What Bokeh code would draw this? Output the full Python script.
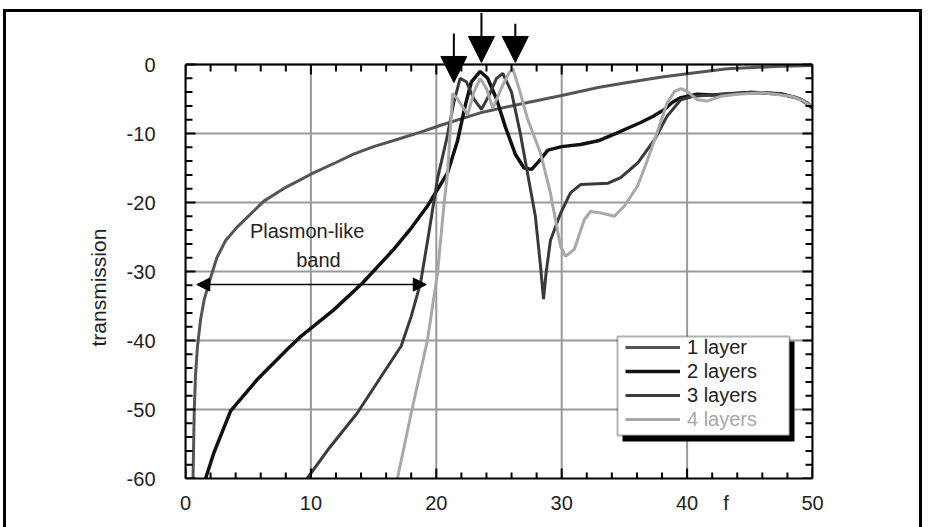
import math
from bokeh.plotting import figure
from bokeh.models import (LinearAxis, Legend, LegendItem, Arrow, NormalHead, Label,
                          BoxAnnotation, SingleIntervalTicker, FixedTicker, Range1d, Span, Title)
from bokeh.embed import file_html
from bokeh.resources import INLINE

FONT = "Liberation Sans"

# ---------------- data ----------------
f1 = [0.6, 0.7, 0.8, 0.95, 1.2, 1.5, 1.9, 2.5, 3.2, 4.1, 5.0, 6.25, 8.0, 10.0, 12.0, 13.4,
      15.0, 17.0, 18.75, 20.35, 23.5, 27.0, 30.0, 33.0, 35.25, 38.0, 40.0, 43.2, 46.9, 50.0]
t1 = [-60, -50, -45, -41, -37, -34, -31.5, -28, -25.5, -23.6, -22, -19.8, -17.8, -15.9, -14.2, -13.0,
      -11.9, -10.8, -9.8, -8.8, -7.0, -5.6, -4.5, -3.3, -2.6, -1.8, -1.35, -0.62, -0.3, -0.15]

f2 = [1.6, 2.26, 3.6, 5.7, 8.1, 9.2, 11.8, 14.1, 16.6, 18.0, 19.3, 20.9, 21.7, 22.3, 22.8, 23.5,
      24.1, 24.8, 25.5, 26.3, 27.0, 27.6, 28.2, 28.9, 30.0, 31.5, 33.0, 34.2, 35.3, 36.3, 37.3,
      38.2, 38.8, 39.5, 40.8, 42.0, 44.8, 46.0, 47.5, 48.5, 49.1, 49.6, 50.0]
t2 = [-60, -56.3, -50.2, -45.7, -41.3, -39.4, -35.6, -31.7, -26.8, -23.7, -20.5, -15.7, -11.0, -6.0,
      -2.5, -1.0, -2.0, -5.0, -9.0, -13.0, -15.0, -15.2, -14.0, -12.4, -11.9, -11.6, -11.0, -10.1,
      -9.2, -8.4, -7.5, -6.5, -5.5, -4.8, -4.3, -4.4, -4.1, -4.1, -4.3, -4.7, -5.1, -5.6, -6.3]

f3 = [9.7, 11.5, 13.7, 15.5, 17.2, 18.0, 18.75, 19.4, 20.1, 20.8, 21.4, 21.9, 22.4, 23.0, 23.6,
      24.2, 24.8, 25.3, 26.0, 26.7, 27.5, 27.9, 28.3, 28.55, 28.75, 29.1, 29.9, 30.7, 31.5, 33.7,
      34.7, 36.1, 37.4, 38.4, 39.5, 40.5, 42.0, 45.0, 47.5, 49.0, 50.0]
t3 = [-60, -55.5, -50.5, -45.5, -40.8, -36.5, -31.6, -24.5, -16.5, -11.0, -5.5, -2.0, -2.5, -5.0,
      -6.5, -4.5, -2.0, -1.3, -4.0, -10.0, -18.0, -22.0, -29.0, -34.0, -30.3, -25.5, -21.6, -18.6,
      -17.4, -17.2, -16.4, -14.2, -10.9, -7.5, -5.1, -4.6, -4.4, -4.0, -4.2, -5.0, -6.3]

f4 = [16.9, 18.0, 19.3, 20.1, 20.6, 20.9, 21.1, 21.3, 21.7, 22.5, 23.0, 23.5, 24.0, 24.5, 25.3,
      25.8, 26.1, 26.6, 27.3, 28.3, 29.1, 29.9, 30.3, 31.0, 31.8, 32.3, 33.1, 34.2, 35.0, 36.05,
      36.85, 37.6, 38.4, 39.0, 39.5, 40.0, 40.8, 41.6, 42.7, 44.0, 46.0, 48.3, 49.2, 49.9]
t4 = [-60, -50.5, -39.9, -30.2, -20.5, -15.7, -10, -4.2, -5, -7.3, -4.0, -2.0, -3.5, -6.3, -3.0,
      -1.2, -0.6, -3.5, -8.0, -12.8, -18.6, -26.3, -27.8, -26.8, -22.5, -21.3, -21.5, -22.0, -20.5,
      -17.6, -13.8, -9.9, -5.6, -3.9, -3.5, -3.9, -5.1, -5.3, -4.6, -4.3, -4.1, -4.6, -5.2, -6.0]

series_names = ["1 layer", "2 layers", "3 layers", "4 layers"]
series_f = [f1, f2, f3, f4]
series_t = [t1, t2, t3, t4]

# axis ticks
x_ticks = [0, 10, 20, 30, 40, 50]
y_ticks = [-60, -50, -40, -30, -20, -10, 0]
x_minor = [v for v in range(0, 51, 2) if v % 10]
y_minor = [v for v in range(-60, 1, 2) if v % 10]
x_title, x_title_pos = "f", 43.1
y_title = "transmission"

# resonance arrows (frequency, top, tip) and plasmon band arrow
arrow_f = [21.4, 23.6, 26.3]
arrow_top = [4.5, 7.5, 5.9]
arrow_tip = [-2.6, 0.3, 0.3]
band_start, band_end, band_level = 0.9, 19.2, -31.9

# ---------------- figure ----------------
colors = ["#555555", "#111111", "#3a3a3a", "#a8a8a8"]
widths = [3, 3.5, 3, 3]
Y_TOP = 7.54   # room above the 0 line for the resonance arrows

W, H = 913, 515
BL, BR, BT, BB = 179, 107, 0, 49
p = figure(width=W, height=H, output_backend="svg", toolbar_location=None,
           x_range=Range1d(x_ticks[0], x_ticks[-1]), y_range=Range1d(y_ticks[0], Y_TOP),
           min_border_left=BL, min_border_right=BR, min_border_top=BT, min_border_bottom=BB,
           background_fill_color="white", border_fill_color="white",
           styles={"position": "relative", "left": "6px", "top": "12px",
                   "outline": "3px solid black"})
p.outline_line_color = None

# pixel size of one data unit (for tick-mark lengths)
xpx = (W - BL - BR) / (x_ticks[-1] - x_ticks[0])
ypx = (H - BT - BB) / (Y_TOP - y_ticks[0])

yt = SingleIntervalTicker(interval=10, num_minor_ticks=5)
xb = p.xaxis[0]
yl = p.yaxis[0]
xb.ticker = FixedTicker(ticks=x_ticks + [x_title_pos])
xb.major_label_overrides = {x_title_pos: x_title}
yl.ticker = yt
yl.bounds = (y_ticks[0], y_ticks[-1])
yr = LinearAxis(ticker=yt, bounds=(y_ticks[0], y_ticks[-1]))
p.add_layout(yr, "right")

for ax in (xb, yl, yr):
    ax.axis_line_color = "black"
    ax.axis_line_width = 2
    ax.major_tick_in = 0
    ax.major_tick_out = 0
    ax.minor_tick_in = 0
    ax.minor_tick_out = 0
    ax.major_label_text_font = FONT
    ax.major_label_text_font_size = "20px"
    ax.major_label_text_color = "#222222"
yr.major_label_text_color = None
yl.major_label_overrides = {v: str(v) for v in y_ticks}

xb.major_label_standoff = 13
yl.major_label_standoff = 30

ttl = Title(text=y_title, align="left", offset=132, text_font=FONT,
            text_font_size="21px", text_font_style="normal", text_color="#222222")
if hasattr(ttl, "standoff"):
    ttl.standoff = 28
p.add_layout(ttl, "left")

# grid: horizontal from the axis ticker, vertical stop at the 0 line
p.ygrid.ticker = yt
p.ygrid.grid_line_color = "#999999"
p.ygrid.grid_line_width = 2
p.xgrid.visible = False
p.segment(x0=x_ticks, y0=y_ticks[0], x1=x_ticks, y1=y_ticks[-1],
          line_color="#999999", line_width=2)

renderers = []
for fx, ty, c, w in zip(series_f, series_t, colors, widths):
    renderers.append(p.line(fx, ty, line_color=c, line_width=w))

# inward tick marks on all four sides
def ticks_x(xs, y0, length_px, direction):
    p.segment(x0=list(xs), y0=[y0] * len(xs), x1=list(xs),
              y1=[y0 + direction * length_px / ypx] * len(xs),
              line_color="black", line_width=2)

def ticks_y(ys, x0, length_px, direction):
    p.segment(x0=[x0] * len(ys), y0=list(ys), x1=[x0 + direction * length_px / xpx] * len(ys),
              y1=list(ys), line_color="black", line_width=2)

ticks_x(x_ticks, y_ticks[0], 10, 1)
ticks_x(x_minor, y_ticks[0], 6, 1)
ticks_x(x_ticks, y_ticks[-1], 10, -1)
ticks_x(x_minor, y_ticks[-1], 7, -1)
ticks_y(y_ticks, x_ticks[0], 10, 1)
ticks_y(y_minor, x_ticks[0], 7, 1)
ticks_y(y_ticks, x_ticks[-1], 10, -1)
ticks_y(y_minor, x_ticks[-1], 7, -1)

# top border of the plotting box
p.add_layout(Span(location=0, dimension="width", line_color="black", line_width=2))

# legend frame with shadow
p.add_layout(BoxAnnotation(left=616, right=788, top=329, bottom=429,
                           left_units="canvas", right_units="canvas",
                           top_units="canvas", bottom_units="canvas",
                           fill_color="black", fill_alpha=1, line_color=None))
p.add_layout(BoxAnnotation(left=611, right=783, top=324, bottom=423,
                           left_units="canvas", right_units="canvas",
                           top_units="canvas", bottom_units="canvas",
                           fill_color="white", fill_alpha=1, line_color="black", line_width=2))

legA = Legend(items=[LegendItem(label=n, renderers=[r]) for n, r in
                     zip(series_names[:3], renderers[:3])], location=(440, 71))
legB = Legend(items=[LegendItem(label=series_names[3], renderers=[renderers[3]])],
              location=(440, 47))
for lg in (legA, legB):
    lg.border_line_color = None
    lg.background_fill_alpha = 0
    lg.padding = 0
    lg.margin = 0
    lg.spacing = 0
    lg.glyph_width = 55
    lg.glyph_height = 24
    lg.label_height = 24
    lg.label_standoff = 7
    lg.label_text_font = FONT
    lg.label_text_font_size = "20px"
    lg.label_text_baseline = "middle"
legA.label_text_color = "#222222"
legB.label_text_color = "#a8a8a8"
p.add_layout(legA)
p.add_layout(legB)

# annotations
for fx, a, b in zip(arrow_f, arrow_top, arrow_tip):
    p.add_layout(Arrow(end=NormalHead(size=26, fill_color="black", line_color="black"),
                       x_start=fx, y_start=a, x_end=fx, y_end=b,
                       line_color="black", line_width=2))
p.add_layout(Arrow(start=NormalHead(size=13, fill_color="black", line_color="black"),
                   end=NormalHead(size=13, fill_color="black", line_color="black"),
                   x_start=band_start, y_start=band_level, x_end=band_end, y_end=band_level,
                   line_color="black", line_width=1.5))

p.add_layout(Label(x=9.7, y=-24.1, text="Plasmon-like", text_align="center",
                   text_baseline="middle", text_font=FONT, text_font_size="20px",
                   text_color="#222222"))
p.add_layout(Label(x=10.6, y=-28.4, text="band", text_align="center",
                   text_baseline="middle", text_font=FONT, text_font_size="20px",
                   text_color="#222222"))

open("out.html", "w").write(file_html(p, INLINE))
